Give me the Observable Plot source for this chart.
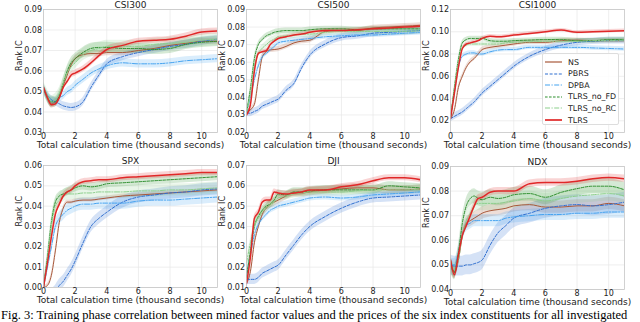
<!DOCTYPE html>
<html><head><meta charset="utf-8">
<script src="https://cdn.jsdelivr.net/npm/d3@7"></script>
<script src="https://cdn.jsdelivr.net/npm/@observablehq/plot@0.6"></script>
<style>
body{margin:0;background:#fff;}
#root{position:relative;width:640px;height:322px;overflow:hidden;background:#fff;font-family:"DejaVu Sans",sans-serif;}
.panel{position:absolute;}
.panel svg{overflow:visible;max-width:none;}
#root svg, #root svg text{font-family:"DejaVu Sans",sans-serif !important;}
.caption{position:absolute;left:1px;top:308.8px;font-family:"Liberation Serif",serif;font-size:12.5px;line-height:1;white-space:nowrap;color:#000;}
.legend{position:absolute;left:542px;top:53px;width:77px;height:72px;border:1px solid #ddd;border-radius:2px;background:rgba(255,255,255,0.85);box-sizing:border-box;}
.legend .row{position:absolute;left:2px;height:10px;display:flex;align-items:center;font-size:7.9px;color:#222;font-family:"DejaVu Sans",sans-serif;}
.legend svg{margin-right:6px;}
</style></head><body><div id="root"></div>
<script>
// x positions (thousand seconds)
const X = [0,0.25,0.5,0.75,1,1.25,1.5,1.75,2,2.5,3,3.5,4,5,6,7,8,9,10,11];
const X_TICKS = [0,2,4,6,8,10];
const METHODS = ["NS","PBRS","DPBA","TLRS_no_FD","TLRS_no_RC","TLRS"];
const TITLES = ["CSI300","CSI500","CSI1000","SPX","DJI","NDX"];

// series values per index, rows in METHODS order
const CSI300 = [
 [.052,.047,.044,.045,.047,.053,.058,.063,.066,.068,.0685,.0685,.069,.069,.070,.071,.0725,.0735,.0745,.0745],
 [.052,.048,.046,.045,.044,.043,.0425,.0422,.0425,.045,.052,.058,.0635,.067,.069,.0705,.072,.073,.0745,.0755],
 [.052,.047,.045,.045,.047,.048,.050,.051,.053,.056,.059,.061,.0625,.064,.0635,.0635,.064,.065,.0655,.066],
 [.052,.047,.045,.045,.048,.054,.060,.064,.066,.069,.071,.0715,.0715,.071,.071,.0705,.071,.073,.074,.0745],
 [.052,.048,.045,.046,.049,.054,.059,.062,.064,.068,.070,.071,.072,.072,.072,.073,.0735,.074,.075,.0755],
 [.052,.047,.0435,.044,.047,.052,.055,.058,.059,.061,.064,.0675,.0705,.0725,.0745,.075,.0755,.077,.079,.0795]
];
const CSI500 = [
 [.031,.033,.036,.050,.063,.066,.067,.0672,.0675,.069,.071,.072,.0725,.0775,.078,.078,.0795,.080,.0805,.081],
 [.031,.031,.032,.033,.035,.036,.037,.038,.039,.044,.048,.057,.064,.0705,.074,.075,.0765,.077,.0775,.078],
 [.031,.040,.050,.058,.063,.065,.067,.069,.071,.072,.0725,.073,.0735,.0745,.075,.0755,.0755,.076,.0765,.077],
 [.031,.045,.062,.070,.073,.075,.076,.077,.0775,.078,.078,.078,.0785,.079,.079,.0785,.079,.079,.079,.079],
 [.031,.042,.058,.065,.068,.070,.072,.073,.0745,.075,.0755,.076,.076,.077,.0775,.0775,.0775,.0775,.0775,.078],
 [.030,.036,.055,.065,.066,.0665,.070,.072,.0735,.0745,.0755,.076,.077,.078,.078,.0785,.079,.0795,.080,.0805]
];
const CSI1000 = [
 [.022,.030,.050,.060,.068,.073,.076,.080,.084,.086,.087,.088,.089,.0905,.0905,.092,.0925,.092,.092,.092],
 [.022,.024,.026,.028,.031,.034,.037,.041,.045,.051,.057,.063,.069,.078,.084,.088,.0905,.0915,.092,.092],
 [.022,.045,.068,.078,.080,.081,.081,.080,.080,.082,.0835,.084,.084,.086,.086,.086,.086,.0855,.085,.0845],
 [.022,.050,.075,.090,.093,.094,.094,.094,.094,.092,.0915,.0915,.092,.0925,.093,.093,.092,.092,.093,.093],
 [.022,.048,.072,.085,.088,.089,.089,.089,.089,.089,.089,.090,.0905,.091,.0915,.0915,.0915,.092,.092,.0925],
 [.022,.045,.068,.085,.089,.090,.091,.092,.094,.096,.0955,.096,.097,.0985,.100,.1015,.0995,.100,.1005,.101]
];
const SPX = [
 [.000,.001,.006,.018,.032,.039,.042,.042,.0425,.043,.043,.0435,.044,.045,.0455,.046,.0465,.047,.0475,.048],
 [-.008,-.006,-.004,-.002,.001,.003,.006,.009,.013,.022,.030,.034,.037,.042,.0445,.0455,.0465,.047,.048,.0485],
 [.000,.010,.020,.030,.034,.036,.038,.039,.040,.041,.041,.0415,.0415,.0415,.0425,.043,.043,.0435,.044,.0445],
 [.000,.015,.032,.042,.045,.046,.047,.048,.049,.050,.0495,.050,.051,.0515,.052,.0525,.053,.0535,.054,.0545],
 [.000,.014,.030,.040,.043,.045,.046,.046,.046,.0465,.0465,.047,.047,.047,.0475,.0475,.048,.048,.0485,.049],
 [.000,.012,.025,.036,.041,.045,.047,.048,.050,.052,.0525,.053,.053,.054,.0545,.055,.0555,.056,.0565,.0565]
];
const DJI = [
 [.012,.018,.032,.040,.046,.049,.051,.052,.053,.055,.0565,.0565,.057,.058,.0585,.059,.059,.058,.058,.0585],
 [.014,.014,.014,.015,.017,.018,.019,.020,.021,.026,.031,.036,.040,.045,.049,.052,.054,.0545,.055,.0555],
 [.016,.026,.036,.041,.044,.046,.048,.049,.050,.051,.052,.053,.054,.0545,.054,.0545,.0555,.056,.0565,.057],
 [.015,.028,.040,.045,.048,.050,.051,.053,.056,.0555,.057,.057,.0575,.058,.058,.058,.058,.060,.0595,.059],
 [.022,.032,.040,.044,.047,.049,.051,.052,.054,.055,.056,.0565,.057,.057,.057,.0575,.058,.058,.058,.0585],
 [.012,.025,.044,.047,.052,.053,.053,.057,.0565,.056,.0565,.057,.058,.058,.0595,.0605,.0625,.064,.064,.063]
];
const NDX = [
 [.052,.047,.052,.062,.067,.068,.069,.070,.071,.072,.0725,.073,.074,.0745,.0735,.0735,.074,.074,.075,.074],
 [.050,.0495,.0495,.0495,.050,.050,.0505,.051,.052,.058,.063,.066,.069,.071,.073,.074,.0745,.074,.0745,.0755],
 [.050,.050,.055,.062,.066,.067,.068,.068,.068,.068,.068,.069,.0695,.070,.0705,.0705,.071,.071,.0715,.0715],
 [.050,.047,.055,.067,.074,.077,.078,.077,.0765,.0775,.077,.0775,.0785,.079,.0775,.0795,.081,.082,.082,.0805],
 [.050,.048,.052,.062,.068,.071,.074,.075,.075,.075,.075,.0755,.076,.077,.076,.077,.078,.0785,.079,.078],
 [.052,.046,.054,.062,.066,.070,.074,.077,.0775,.0795,.080,.080,.080,.083,.0835,.0835,.084,.085,.0855,.085]
];
// spread (std) per method, per index
const CSI300_STD = [.0015,.002,.002,.0025,.003,.0015];
const CSI500_STD = [.0015,.002,.0015,.0015,.002,.001];
const CSI1000_STD = [.002,.003,.002,.002,.002,.0015];
const SPX_STD = [.001,.003,.003,.002,.003,.0015];
const DJI_STD = [.002,.0025,.0015,.002,.002,.0015];
const NDX_STD = [.0025,.004,.0025,.003,.003,.0015];

// y tick values per index
const CSI300_YT = [0.03,0.04,0.05,0.06,0.07,0.08,0.09];
const CSI500_YT = [0.02,0.03,0.04,0.05,0.06,0.07,0.08,0.09];
const CSI1000_YT = [0.02,0.04,0.06,0.08,0.10,0.12];
const SPX_YT = [0.00,0.01,0.02,0.03,0.04,0.05,0.06];
const DJI_YT = [0.01,0.02,0.03,0.04,0.05,0.06,0.07];
const NDX_YT = [0.04,0.05,0.06,0.07,0.08,0.09];

// styles
const COLORS = ["#a8583a","#2f6fd0","#45a3f0","#2f8f2f","#8ccf8c","#e02828"];
const DASHES = [null,"3,1.6","5,1.5,1.2,1.5","2.6,1.4","5,1.5,1.2,1.5",null];
const WIDTHS = [1,1,1,1,1,1.5];

const panels = [
 {title:TITLES[0], vals:CSI300, std:CSI300_STD, yt:CSI300_YT, yd:[0.03,0.09], left:0, top:0, mt:9, fh:123},
 {title:TITLES[1], vals:CSI500, std:CSI500_STD, yt:CSI500_YT, yd:[0.02,0.09], left:203, top:0, mt:9, fh:123},
 {title:TITLES[2], vals:CSI1000, std:CSI1000_STD, yt:CSI1000_YT, yd:[0.0095,0.12], left:407, top:0, mt:9, fh:123},
 {title:TITLES[3], vals:SPX, std:SPX_STD, yt:SPX_YT, yd:[0,0.06], left:0, top:150, mt:15, fh:122},
 {title:TITLES[4], vals:DJI, std:DJI_STD, yt:DJI_YT, yd:[0.01,0.07], left:203, top:150, mt:15, fh:122},
 {title:TITLES[5], vals:NDX, std:NDX_STD, yt:NDX_YT, yd:[0.04,0.09], left:407, top:150, mt:16, fh:123}
];

const root = document.getElementById("root");
const fmt = d3.format(".2f");

for (const p of panels) {
  const marks = [
    Plot.gridX(X_TICKS, {stroke:"#e6e6e6", strokeOpacity:1, strokeWidth:0.7}),
    Plot.gridY(p.yt, {stroke:"#e6e6e6", strokeOpacity:1, strokeWidth:0.7})
  ];
  const series = METHODS.map((m,i) => X.map((x,j) => ({x, v:p.vals[i][j], s:p.std[i]})));
  series.forEach((rows,i) => {
    marks.push(Plot.areaY(rows, {x:"x", y1:d=>d.v-d.s, y2:d=>d.v+d.s, fill:COLORS[i], fillOpacity:0.2, curve:"monotone-x", clip:true}));
  });
  series.forEach((rows,i) => {
    marks.push(Plot.line(rows, {x:"x", y:"v", stroke:COLORS[i], strokeWidth:WIDTHS[i], strokeDasharray:DASHES[i], curve:"monotone-x", clip:true}));
  });
  marks.push(Plot.frame({stroke:"#c6c6c6", strokeWidth:0.8}));
  marks.push(Plot.axisX(X_TICKS, {tickSize:0, tickPadding:1, fontSize:8, label:null, fill:"#222"}));
  marks.push(Plot.axisY(p.yt, {tickSize:0, tickPadding:1.5, fontSize:8, tickFormat:fmt, label:null, fill:"#222"}));
  marks.push(Plot.text([p.title], {frameAnchor:"top", dy:-4.5, lineAnchor:"middle", fontSize:9, fill:"#222"}));
  marks.push(Plot.text(["Total calculation time (thousand seconds)"], {frameAnchor:"bottom", dy:13, lineAnchor:"middle", fontSize:9, fill:"#222"}));
  marks.push(Plot.text(["Rank IC"], {frameAnchor:"left", dx:-24, rotate:-90, lineAnchor:"middle", fontSize:8, fill:"#222"}));

  const mb = 20;
  const chart = Plot.plot({
    width: 43 + 174 + 10,
    height: p.mt + p.fh + mb,
    marginLeft: 43, marginRight: 10, marginTop: p.mt, marginBottom: mb,
    x: {domain:[0,11], axis:null},
    y: {domain:p.yd, axis:null},
    style: {background:"transparent", fontFamily:"DejaVu Sans", overflow:"visible"},
    marks
  });
  const div = document.createElement("div");
  div.className = "panel";
  div.style.left = p.left + "px";
  div.style.top = p.top + "px";
  div.appendChild(chart);
  root.appendChild(div);
}

// legend (in CSI1000 panel)
const leg = document.createElement("div");
leg.className = "legend";
METHODS.forEach((m,i) => {
  const row = document.createElement("div");
  row.className = "row";
  row.style.top = (3 + i*11.6) + "px";
  const dash = DASHES[i] ? `stroke-dasharray="${DASHES[i]}"` : "";
  row.innerHTML = `<svg width="17" height="6"><line x1="0" y1="3" x2="17" y2="3" stroke="${COLORS[i]}" stroke-width="${WIDTHS[i]+0.2}" ${dash}/></svg><span>${m}</span>`;
  leg.appendChild(row);
});
root.appendChild(leg);

const cap = document.createElement("div");
cap.className = "caption";
cap.textContent = "Fig. 3: Training phase correlation between mined factor values and the prices of the six index constituents for all investigated";
root.appendChild(cap);
</script></body></html>
